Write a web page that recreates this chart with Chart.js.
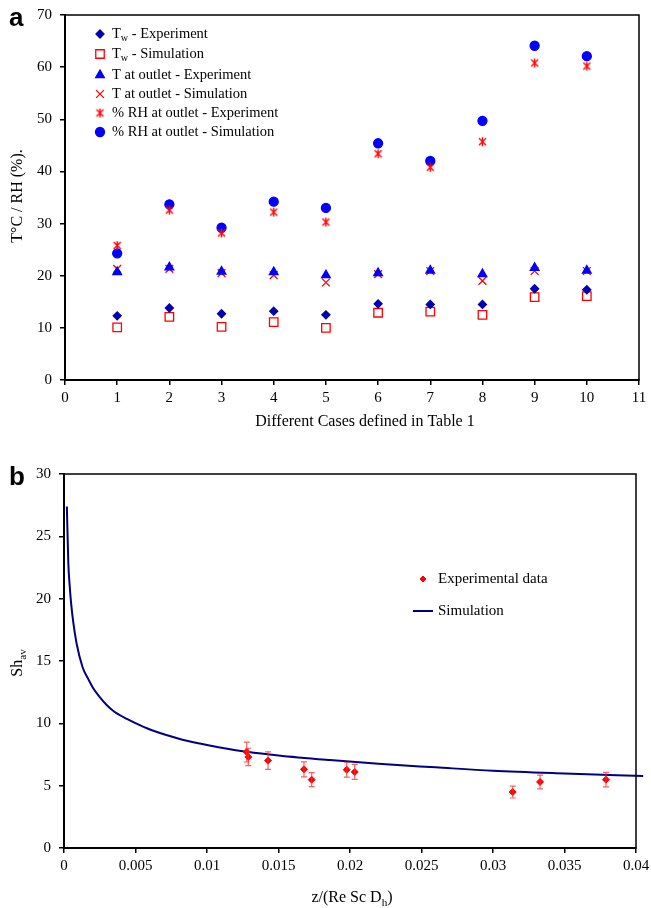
<!DOCTYPE html>
<html>
<head>
<meta charset="utf-8">
<script src="https://cdn.jsdelivr.net/npm/chart.js@4.4.1/dist/chart.umd.min.js"></script>
<style>
  body { margin: 0; background: #fff; }
  .panel { position: absolute; left: 0; width: 651px; }
  #wrapA { top: 0; height: 445px; }
  #wrapB { top: 455px; height: 453px; }
  .tag { position: absolute; font: bold 26px "Liberation Sans", Arial, sans-serif; color: #000; }
</style>
</head>
<body>
<div class="panel" id="wrapA"><canvas id="chartA" width="651" height="445"></canvas></div>
<div class="panel" id="wrapB"><canvas id="chartB" width="651" height="453"></canvas></div>
<div class="tag" style="left:9px;top:2px">a</div>
<div class="tag" style="left:9px;top:461px">b</div>
<script>
// --- panel a: measured vs simulated per case ---
const cases = [1, 2, 3, 4, 5, 6, 7, 8, 9, 10];
const twExp   = [12.3, 13.8, 12.7, 13.2, 12.5, 14.6, 14.5, 14.5, 17.5, 17.3];
const twSim   = [10.1, 12.1, 10.2, 11.1, 10.0, 12.9, 13.1, 12.5, 15.9, 16.1];
const tOutExp = [20.7, 21.6, 20.8, 20.7, 20.1, 20.5, 21.0, 20.3, 21.5, 21.0];
const tOutSim = [21.3, 21.3, 20.5, 20.1, 18.7, 20.3, 20.9, 19.0, 20.9, 20.9];
const rhExp   = [25.8, 32.6, 28.2, 32.2, 30.3, 43.4, 40.8, 45.7, 60.8, 60.2];
const rhSim   = [24.3, 33.7, 29.2, 34.2, 33.0, 45.4, 42.0, 49.7, 64.1, 62.1];

// --- panel b: Sherwood number ---
const zExp  = [0.01278, 0.01289, 0.01427, 0.01678, 0.01732, 0.01977, 0.02033, 0.03138, 0.03329, 0.0379];
const shExp = [7.70, 7.30, 7.01, 6.31, 5.48, 6.28, 6.10, 4.49, 5.30, 5.48];
const shErr = [0.80, 0.70, 0.70, 0.60, 0.56, 0.60, 0.60, 0.48, 0.55, 0.58];
const zSim  = [0.0002, 0.0003, 0.0004, 0.0005, 0.00065, 0.0009, 0.0013, 0.0017, 0.002, 0.0025,
               0.003, 0.0035, 0.0044, 0.0053, 0.0062, 0.0081, 0.0095, 0.0109, 0.0128, 0.015,
               0.0186, 0.022, 0.026, 0.030, 0.035, 0.0405];
const shSim = [27.4, 22.9, 21.0, 19.6, 18.1, 16.3, 14.5, 13.55, 12.9, 12.1,
               11.45, 10.95, 10.35, 9.85, 9.42, 8.75, 8.38, 8.07, 7.72, 7.42,
               7.05, 6.75, 6.47, 6.2, 5.98, 5.78];

const SERIF = '"Liberation Serif", "Times New Roman", serif';
Chart.defaults.font.family = SERIF;
Chart.defaults.color = '#000';

const pts = (xs, ys) => xs.map((x, i) => ({ x: x, y: ys[i] }));

// excel-like asterisk marker
const starImg = (() => {
    const c = document.createElement('canvas');
    c.width = 11; c.height = 11;
    const g = c.getContext('2d');
    g.strokeStyle = '#ff0000';
    g.lineWidth = 1.4;
    g.beginPath();
    g.moveTo(2, 2); g.lineTo(9, 9);
    g.moveTo(9, 2); g.lineTo(2, 9);
    g.moveTo(5.5, 1); g.lineTo(5.5, 10);
    g.stroke();
    return c;
})();

// text with subscript pieces: parts = [[text, isSub], ...]
function drawRich(ctx, parts, x, y, size, align) {
    let total = 0;
    const widths = parts.map(p => {
        ctx.font = (p[1] ? size * 0.7 : size) + 'px ' + SERIF;
        const w = ctx.measureText(p[0]).width;
        total += w;
        return w;
    });
    let cx = align === 'center' ? x - total / 2 : x;
    ctx.textBaseline = 'middle';
    ctx.textAlign = 'left';
    ctx.fillStyle = '#000';
    parts.forEach((p, i) => {
        ctx.font = (p[1] ? size * 0.7 : size) + 'px ' + SERIF;
        ctx.fillText(p[0], cx, p[1] ? y + size * 0.3 : y);
        cx += widths[i];
    });
}

function drawFrame(chart) {
    const a = chart.chartArea, ctx = chart.ctx;
    ctx.save();
    ctx.strokeStyle = '#000';
    ctx.lineWidth = 1.5;
    ctx.strokeRect(a.left, a.top, a.right - a.left, a.bottom - a.top);
    ctx.restore();
}

function axisOpts(min, max, step, pad, extra) {
    return Object.assign({
        type: 'linear', min: min, max: max,
        ticks: { stepSize: step, font: { size: 15 }, color: '#000', padding: pad },
        grid: { drawOnChartArea: false, drawTicks: true, tickLength: 5, color: '#000', lineWidth: 1.5 },
        border: { display: true, color: '#000', width: 2 }
    }, extra);
}

// --- chart a ---
const seriesA = [
    { label: [['T', 0], ['w', 1], [' - Experiment', 0]], data: twExp, style: 'rectRot', r: 4, fill: '#0000b0', stroke: '#0000b0' },
    { label: [['T', 0], ['w', 1], [' - Simulation', 0]], data: twSim, style: 'rect', r: 6, fill: 'rgba(0,0,0,0)', stroke: '#ff0000' },
    { label: [['T at outlet - Experiment', 0]], data: tOutExp, style: 'triangle', r: 5, fill: '#0000ff', stroke: '#0000ff' },
    { label: [['T at outlet - Simulation', 0]], data: tOutSim, style: 'crossRot', r: 5.5, fill: '#ff0000', stroke: '#ff0000' },
    { label: [['% RH at outlet - Experiment', 0]], data: rhExp, style: starImg, r: 5, fill: '#ff0000', stroke: '#ff0000' },
    { label: [['% RH at outlet - Simulation', 0]], data: rhSim, style: 'circle', r: 4.5, fill: '#0000ff', stroke: '#0000ff' }
];

const legendA = {
    id: 'legendA',
    beforeDatasetsDraw(chart) { drawFrame(chart); },
    afterDraw(chart) {
        const ctx = chart.ctx;
        const rows = [34, 54, 75, 94, 113, 132];
        seriesA.forEach((s, i) => {
            ctx.save();
            ctx.fillStyle = s.fill;
            ctx.strokeStyle = s.stroke;
            ctx.lineWidth = 1.3;
            Chart.helpers.drawPoint(ctx, { pointStyle: s.style, radius: s.r, rotation: 0, borderWidth: 1.3 }, 100, rows[i]);
            ctx.restore();
            drawRich(ctx, s.label, 112, rows[i], 14.5, 'left');
        });
        // axis titles
        drawRich(ctx, [['Different Cases defined in Table 1', 0]], 365, 422, 16, 'center');
        ctx.save();
        ctx.translate(18, 196);
        ctx.rotate(-Math.PI / 2);
        drawRich(ctx, [['T°C / RH (%).', 0]], 0, 0, 16, 'center');
        ctx.restore();
    }
};

new Chart(document.getElementById('chartA'), {
    type: 'scatter',
    data: {
        datasets: seriesA.map(s => ({
            data: pts(cases, s.data),
            pointStyle: s.style,
            pointRadius: s.r,
            pointBackgroundColor: s.fill,
            pointBorderColor: s.stroke,
            pointBorderWidth: 1.3,
            showLine: false
        }))
    },
    options: {
        responsive: false,
        animation: false,
        events: [],
        layout: { padding: { left: 0, right: 12, top: 15, bottom: 0 } },
        plugins: { legend: { display: false }, tooltip: { enabled: false } },
        scales: {
            x: axisOpts(0, 11, 1, 4, { afterFit(s) { s.height = 65; s.paddingLeft = 0; s.paddingRight = 0; } }),
            y: axisOpts(0, 70, 10, 8, { afterFit(s) { s.width = 65; s.paddingTop = 0; s.paddingBottom = 0; } })
        }
    },
    plugins: [legendA]
});

// --- chart b ---
const extrasB = {
    id: 'extrasB',
    beforeDatasetsDraw(chart) { drawFrame(chart); },
    afterDatasetsDraw(chart) {
        const ctx = chart.ctx, xs = chart.scales.x, ys = chart.scales.y;
        ctx.save();
        ctx.strokeStyle = 'rgba(255,40,40,0.75)';
        ctx.lineWidth = 1.2;
        zExp.forEach((z, i) => {
            const px = xs.getPixelForValue(z);
            const top = ys.getPixelForValue(shExp[i] + shErr[i]);
            const bot = ys.getPixelForValue(shExp[i] - shErr[i]);
            ctx.beginPath();
            ctx.moveTo(px, top); ctx.lineTo(px, bot);
            ctx.moveTo(px - 3, top); ctx.lineTo(px + 3, top);
            ctx.moveTo(px - 3, bot); ctx.lineTo(px + 3, bot);
            ctx.stroke();
        });
        ctx.restore();
    },
    afterDraw(chart) {
        const ctx = chart.ctx;
        ctx.save();
        ctx.fillStyle = '#ff0000';
        ctx.strokeStyle = '#ff0000';
        Chart.helpers.drawPoint(ctx, { pointStyle: 'rectRot', radius: 3, rotation: 0, borderWidth: 1 }, 423, 124);
        ctx.strokeStyle = '#000080';
        ctx.lineWidth = 2;
        ctx.beginPath();
        ctx.moveTo(413, 156); ctx.lineTo(433, 156);
        ctx.stroke();
        ctx.restore();
        drawRich(ctx, [['Experimental data', 0]], 438, 124, 15, 'left');
        drawRich(ctx, [['Simulation', 0]], 438, 156, 15, 'left');
        // axis titles
        drawRich(ctx, [['z/(Re Sc D', 0], ['h', 1], [')', 0]], 352, 443, 16, 'center');
        ctx.save();
        ctx.translate(18, 208);
        ctx.rotate(-Math.PI / 2);
        drawRich(ctx, [['Sh', 0], ['av', 1]], 0, 0, 16, 'center');
        ctx.restore();
    }
};

new Chart(document.getElementById('chartB'), {
    type: 'scatter',
    data: {
        datasets: [
            {
                data: pts(zExp, shExp),
                pointStyle: 'rectRot',
                pointRadius: 3.5,
                pointBackgroundColor: '#ff0000',
                pointBorderColor: '#ff0000',
                pointBorderWidth: 1,
                showLine: false
            },
            {
                data: pts(zSim, shSim),
                showLine: true,
                borderColor: '#000080',
                borderWidth: 2,
                pointRadius: 0,
                cubicInterpolationMode: 'monotone',
                clip: false
            }
        ]
    },
    options: {
        responsive: false,
        animation: false,
        events: [],
        layout: { padding: { left: 0, right: 15, top: 19, bottom: 0 } },
        plugins: { legend: { display: false }, tooltip: { enabled: false } },
        scales: {
            x: axisOpts(0, 0.04, 0.005, 4, {
                ticks: { stepSize: 0.005, font: { size: 15 }, color: '#000', padding: 4,
                         callback: v => String(parseFloat(v.toFixed(3))) },
                afterFit(s) { s.height = 60; s.paddingLeft = 0; s.paddingRight = 0; }
            }),
            y: axisOpts(0, 30, 5, 8, { afterFit(s) { s.width = 64; s.paddingTop = 0; s.paddingBottom = 0; } })
        }
    },
    plugins: [extrasB]
});
</script>
</body>
</html>
